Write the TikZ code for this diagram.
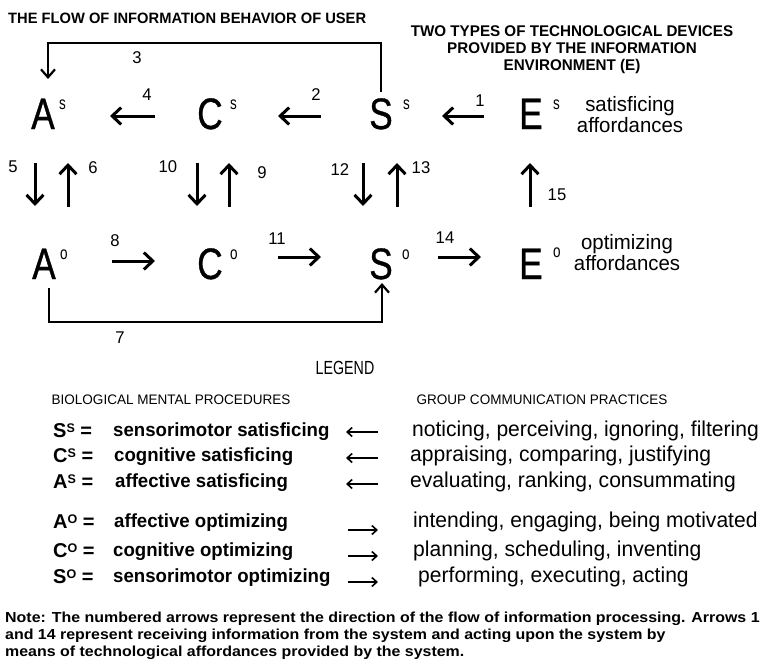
\documentclass[tikz,border=0pt]{standalone}
\usepackage{fontspec}
\setmainfont{Liberation Sans}
\newfontfamily\fN[FakeStretch=0.98]{Liberation Sans}
\newfontfamily\fW[FakeStretch=1.1]{Liberation Sans}
\newfontfamily\fL[FakeStretch=0.75]{Liberation Sans}
\newfontfamily\fB[FakeStretch=0.8,FakeBold=0.8]{Liberation Sans}
\usetikzlibrary{arrows.meta}
\newcommand\fsz[2][]{\fontsize{#2}{#2}\selectfont}
\begin{document}
\begin{tikzpicture}[x=1pt,y=-1pt,
  letter/.style={inner sep=0pt, anchor=base, font=\fB\fsz{44}},
  supr/.style={inner sep=0pt, anchor=base west, font=\fL\fsz{18}},
  num/.style={inner sep=0pt, font=\fN\fsz{17}},
  bigar/.style={line width=3pt, -{Straight Barb[length=9pt,width=17pt,line width=3pt]}},
  connar/.style={line width=2pt, -{Straight Barb[length=8pt,width=14pt,line width=2.2pt]}},
  legar/.style={line width=1.6pt, -{Straight Barb[length=5pt,width=9pt,line width=1.6pt]}},
  afford/.style={inner sep=0pt, align=center, font=\fN\fontsize{20.8}{21}\selectfont},
  legl/.style={inner sep=0pt, anchor=base west, font=\fN\bfseries\fsz{19}},
  legr/.style={inner sep=0pt, anchor=base west, font=\fN\fsz{21.5}},
  sym/.style={inner sep=0pt, anchor=base west, font=\bfseries\fsz{20}},
  note/.style={inner sep=0pt, anchor=base west, font=\fW\bfseries\fsz{14.5}},
  head/.style={inner sep=0pt, font=\fN\fsz{13.8}}
]
\useasboundingbox[fill=white] (0,0) rectangle (764,662);

% titles
\node[inner sep=0pt, anchor=base west, font=\fN\bfseries\fsz{15}] (title) at (8,23) {THE FLOW OF INFORMATION BEHAVIOR OF USER};
\node[inner sep=0pt, align=center, font=\fN\bfseries\fontsize{15.5}{17}\selectfont] (ttypes) at (572,50)
  {TWO TYPES OF TECHNOLOGICAL DEVICES\\PROVIDED BY THE INFORMATION\\ENVIRONMENT (E)};

% row 1
\node[letter] (As) at (43,129) {A};
\node[supr] (As-s) at (59,109) {s};
\node[letter] (Cs) at (210,129) {C};
\node[supr] (Cs-s) at (230,109) {s};
\node[letter] (Ss) at (381,129) {S};
\node[supr] (Ss-s) at (403,109) {s};
\node[letter] (Es) at (531,129) {E};
\node[supr] (Es-s) at (553,109) {s};
\node[afford] (aff-s) at (630,115) {satisficing\\affordances};

% row 2
\node[letter] (Ao) at (44,279) {A};
\node[supr] (Ao-o) at (60,259) {o};
\node[letter] (Co) at (210,279) {C};
\node[supr] (Co-o) at (230,259) {o};
\node[letter] (So) at (381,279) {S};
\node[supr] (So-o) at (402,259) {o};
\node[letter] (Eo) at (531,279) {E};
\node[supr] (Eo-o) at (553,257) {o};
\node[afford] (aff-o) at (627,253) {optimizing\\affordances};

% horizontal arrows row 1
\coordinate (a4s) at (155,116); \coordinate (a4e) at (110,116);
\coordinate (a2s) at (321,116); \coordinate (a2e) at (278,116);
\coordinate (a1s) at (484,116); \coordinate (a1e) at (442,116);
\draw[bigar] (a4s) -- (a4e);
\draw[bigar] (a2s) -- (a2e);
\draw[bigar] (a1s) -- (a1e);
\node[num] (n4) at (147,95) {4};
\node[num] (n2) at (316,95) {2};
\node[num] (n1) at (480,101) {1};

% vertical arrows
\coordinate (a5s) at (35,163); \coordinate (a5e) at (35,206);
\coordinate (a6s) at (68,207); \coordinate (a6e) at (68,163);
\coordinate (a10s) at (197,163); \coordinate (a10e) at (197,206);
\coordinate (a9s) at (229,207); \coordinate (a9e) at (229,163);
\coordinate (a12s) at (363,163); \coordinate (a12e) at (363,206);
\coordinate (a13s) at (397,207); \coordinate (a13e) at (397,163);
\coordinate (a15s) at (530,207); \coordinate (a15e) at (530,163);
\draw[bigar] (a5s) -- (a5e);
\draw[bigar] (a6s) -- (a6e);
\draw[bigar] (a10s) -- (a10e);
\draw[bigar] (a9s) -- (a9e);
\draw[bigar] (a12s) -- (a12e);
\draw[bigar] (a13s) -- (a13e);
\draw[bigar] (a15s) -- (a15e);
\node[num] (n5) at (13,167) {5};
\node[num] (n6) at (93,168) {6};
\node[num] (n10) at (168,167) {10};
\node[num] (n9) at (262,173) {9};
\node[num] (n12) at (340,170) {12};
\node[num] (n13) at (421,168) {13};
\node[num] (n15) at (557,195) {15};

% horizontal arrows row 2
\coordinate (a8s) at (112,261); \coordinate (a8e) at (155,261);
\coordinate (a11s) at (278,257); \coordinate (a11e) at (321,257);
\coordinate (a14s) at (438,257); \coordinate (a14e) at (481,257);
\draw[bigar] (a8s) -- (a8e);
\draw[bigar] (a11s) -- (a11e);
\draw[bigar] (a14s) -- (a14e);
\node[num] (n8) at (115,241) {8};
\node[num] (n11) at (277,239) {11};
\node[num] (n14) at (445,238) {14};

% connector 3 (top)
\coordinate (c3s) at (381,92);
\coordinate (c3a) at (48,43);
\coordinate (c3e) at (48,79);
\draw[connar] (c3s) |- (c3a) -- (c3e);
\node[num] (n3) at (137,58) {3};

% connector 7 (bottom)
\coordinate (c7s) at (49,288);
\coordinate (c7a) at (49,322);
\coordinate (c7e) at (382,283);
\draw[connar] (c7s) -- (c7a) -| (c7e);
\node[num] (n7) at (120,338) {7};

% legend
\node[inner sep=0pt, font=\fL\fsz{19}] (legend) at (345,368) {LEGEND};
\node[head] (hbio) at (171,400) {BIOLOGICAL MENTAL PROCEDURES};
\node[head] (hgrp) at (542,400) {GROUP COMMUNICATION PRACTICES};

\node[sym] (lSs) at (53,437) {S\raisebox{5pt}{\fsz{12.5}S} =};
\node[legl] (tSs) at (113,436) {sensorimotor satisficing};
\node[sym] (lCs) at (53,462) {C\raisebox{5pt}{\fsz{12.5}S} =};
\node[legl] (tCs) at (114,461) {cognitive satisficing};
\node[sym] (lAs) at (53,488) {A\raisebox{5pt}{\fsz{12.5}S} =};
\node[legl] (tAs) at (115,487) {affective satisficing};
\node[sym] (lAo) at (53,528) {A\raisebox{5pt}{\fsz{12.5}O} =};
\node[legl] (tAo) at (114,527) {affective optimizing};
\node[sym] (lCo) at (53,557) {C\raisebox{5pt}{\fsz{12.5}O} =};
\node[legl] (tCo) at (113,556) {cognitive optimizing};
\node[sym] (lSo) at (53,583) {S\raisebox{5pt}{\fsz{12.5}O} =};
\node[legl] (tSo) at (113,582) {sensorimotor optimizing};

\coordinate (l1s) at (378,432); \coordinate (l1e) at (346,432);
\coordinate (l2s) at (378,458); \coordinate (l2e) at (346,458);
\coordinate (l3s) at (378,484); \coordinate (l3e) at (346,484);
\coordinate (l4s) at (348,530); \coordinate (l4e) at (378,530);
\coordinate (l5s) at (348,556); \coordinate (l5e) at (378,556);
\coordinate (l6s) at (348,582); \coordinate (l6e) at (378,582);
\draw[legar] (l1s) -- (l1e);
\draw[legar] (l2s) -- (l2e);
\draw[legar] (l3s) -- (l3e);
\draw[legar] (l4s) -- (l4e);
\draw[legar] (l5s) -- (l5e);
\draw[legar] (l6s) -- (l6e);

\node[legr] (r1) at (412,436) {noticing, perceiving, ignoring, filtering};
\node[legr] (r2) at (410,461) {appraising, comparing, justifying};
\node[legr] (r3) at (410,487) {evaluating, ranking, consummating};
\node[legr] (r4) at (413,527) {intending, engaging, being motivated};
\node[legr] (r5) at (413,556) {planning, scheduling, inventing};
\node[legr] (r6) at (418,582) {performing, executing, acting};

% note
\node[note] (note1) at (5,622) {Note: The numbered arrows represent the direction of the flow of information processing. Arrows 1};
\node[note] (note2) at (5,639) {and 14 represent receiving information from the system and acting upon the system by};
\node[note] (note3) at (5,656) {means of technological affordances provided by the system.};
\end{tikzpicture}
\end{document}
